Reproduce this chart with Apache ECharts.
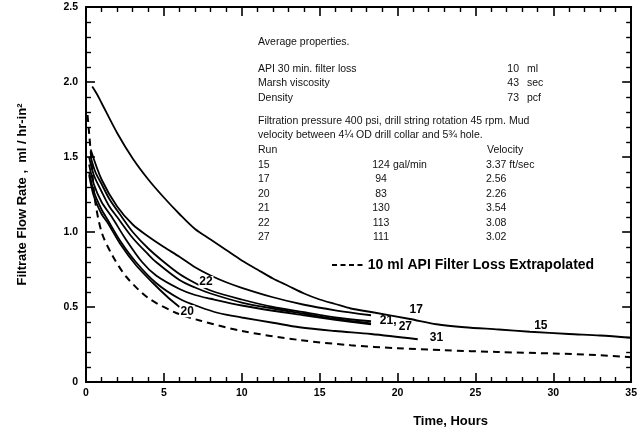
<!DOCTYPE html>
<html><head><meta charset="utf-8">
<script src="https://cdn.jsdelivr.net/npm/echarts@6/dist/echarts.min.js"></script>
<style>html,body{margin:0;padding:0;background:#fff}#c{width:640px;height:434px}</style>
</head><body><div id="c"></div>
<script>
// ---- data (hours, filtrate flow rate ml/hr-in^2) ----
const run15 = [[0.4,1.97],[0.7,1.92],[1,1.86],[2,1.66],[3,1.49],[4,1.35],[5,1.23],[6,1.12],[7,1.02],[8,0.95],[9,0.88],[10,0.81],[11,0.75],[12,0.69],[13,0.64],[14,0.59],[15,0.55],[16,0.52],[17,0.49],[18.4,0.465],[20.8,0.42],[22.5,0.385],[24.3,0.365],[26.5,0.35],[28.5,0.335],[31,0.32],[33,0.31],[35,0.295]];
const run22 = [[0.3,1.55],[1,1.35],[2,1.17],[3,1.05],[4,0.97],[5,0.9],[6,0.835],[7,0.765],[8,0.71],[9,0.665],[10,0.628],[12,0.565],[14,0.515],[16,0.478],[18.3,0.445]];
const run17 = [[0.3,1.5],[0.6,1.4],[1,1.32],[1.5,1.22],[2.3,1.1],[3,1.0],[4,0.89],[5,0.8],[6,0.72],[7,0.66],[8,0.61],[10,0.55],[12,0.5],[14,0.465],[16,0.43],[18.3,0.405]];
const run21 = [[0.2,1.5],[0.5,1.38],[1,1.27],[1.5,1.17],[2,1.1],[3,0.96],[4,0.85],[4.5,0.8],[6,0.68],[7,0.63],[8,0.59],[10,0.53],[12,0.49],[14,0.455],[16,0.42],[18.3,0.39]];
const run27 = [[0.2,1.45],[0.5,1.32],[1,1.2],[1.66,1.1],[2.5,0.96],[3.6,0.8],[4.5,0.71],[6,0.62],[7,0.58],[8,0.555],[10,0.51],[12,0.475],[14,0.445],[16,0.415],[18.3,0.385]];
const run31 = [[0.2,1.4],[0.5,1.27],[1,1.15],[1.4,1.08],[2.2,0.94],[3.2,0.8],[4.5,0.66],[6,0.555],[7.3,0.5],[8.5,0.46],[10,0.43],[12,0.395],[13.7,0.365],[16,0.34],[18.3,0.32],[21.3,0.285]];
const run20 = [[0.2,1.38],[0.5,1.24],[1,1.12],[1.4,1.06],[2.2,0.92],[3.2,0.78],[4.3,0.66],[5.2,0.57],[6.0,0.5]];
const apiExtrapolated = [[0.1,1.78],[0.2,1.66],[0.35,1.48],[0.57,1.22],[1,1.0],[1.66,0.85],[2.6,0.7],[4,0.56],[5.8,0.46],[7.3,0.41],[10,0.34],[13.7,0.28],[17,0.245],[20,0.225],[23,0.212],[26.4,0.2],[30,0.19],[32.8,0.18],[35,0.165]];

const xTicks = [0,5,10,15,20,25,30,35];
const yTicks = ['0','0.5','1.0','1.5','2.0','2.5'];

const propNames = ['API 30 min. filter loss','Marsh viscosity','Density'];
const propValues = ['10','43','73'];
const propUnits = ['ml','sec','pcf'];
const tableRuns = ['15','17','20','21','22','27'];
const tableRates = ['124','94','83','130','113','111'];
const tableVel = ['3.37 ft/sec','2.56','2.26','3.54','3.08','3.02'];
const legendName = '10 ml API Filter Loss Extrapolated';

// ---- chart ----
const FONT = '"Liberation Sans", Arial, sans-serif';
const chart = echarts.init(document.getElementById('c'), null, {renderer:'canvas'});

const axisCommon = {
  type:'value',
  axisLine:{show:true, onZero:false, lineStyle:{color:'#000', width:2}},
  axisTick:{show:true, inside:true, length:9, lineStyle:{color:'#000', width:1.6}},
  minorTick:{show:true, splitNumber:5, length:5, lineStyle:{color:'#000', width:1.4}},
  splitLine:{show:false}, minorSplitLine:{show:false}
};

const xAx = (pos, showLabel) => Object.assign({}, axisCommon, {
  position:pos, min:0, max:35, interval:5,
  axisLabel:{show:showLabel, color:'#000', fontFamily:FONT, fontWeight:'bold', fontSize:10.5, margin:6,
    formatter:v => xTicks.indexOf(v) >= 0 ? String(v) : ''},
  name: showLabel ? 'Time, Hours' : '',
  nameLocation:'middle', nameGap:33,
  nameTextStyle:{color:'#000', fontFamily:FONT, fontWeight:'bold', fontSize:13, padding:[0,0,0,184]}
});
const yAx = (pos, showLabel) => Object.assign({}, axisCommon, {
  position:pos, min:0, max:2.5, interval:0.5,
  axisLabel:{show:showLabel, color:'#000', fontFamily:FONT, fontWeight:'bold', fontSize:10.5, margin:8,
    formatter:v => yTicks[Math.round(v/0.5)]},
  name: showLabel ? 'Filtrate Flow Rate ,  ml / hr-in\u00b2' : '',
  nameLocation:'middle', nameGap:57, nameRotate:90,
  nameTextStyle:{color:'#000', fontFamily:FONT, fontWeight:'bold', fontSize:13}
});

function curve(name, data, labels, dashed){
  return {
    name:name, type:'line', data:data, smooth:0.3, showSymbol:false, symbol:'none',
    xAxisIndex:0, yAxisIndex:0, z:3,
    lineStyle:{color:'#000', width:dashed?2:1.8, type: dashed?[7,5]:'solid'},
    itemStyle:{color:'#000'},
    emphasis:{disabled:true},
    markPoint: labels ? {
      symbol:'rect', symbolSize:[15,12], silent:true, animation:false,
      itemStyle:{color:labels.bg ? '#fff' : 'rgba(0,0,0,0)'},
      label:{show:true, position:'inside', color:'#000', fontFamily:FONT, fontWeight:'bold', fontSize:12,
        formatter:p => p.name},
      data:labels.pts.map(p => ({name:p.t, coord:p.c}))
    } : undefined
  };
}

const graphics = [];
function txt(x, y, s, align, size){
  graphics.push({type:'text', x:x, y:y, z:10,
    style:{text:s, fill:'#111', font:(size||10.5)+'px '+FONT, textAlign:align||'left', textVerticalAlign:'middle'}});
}
txt(258, 42, 'Average properties.');
const propY = [69, 83, 98];
propNames.forEach((n,i)=>{ txt(258, propY[i], n); txt(519, propY[i], propValues[i], 'right'); txt(527, propY[i], propUnits[i]); });
txt(258, 121, 'Filtration pressure 400 psi, drill string rotation 45 rpm. Mud');
txt(258, 135, 'velocity between 4\u00bc OD drill collar and 5\u00be hole.');
txt(258, 150, 'Run');
txt(487, 150, 'Velocity');
const rowY = [165, 179, 194, 208, 223, 237];
tableRuns.forEach((r,i)=>{
  txt(258, rowY[i], r);
  txt(381, rowY[i], tableRates[i], 'center');
  if (i === 0) txt(393, rowY[i], 'gal/min');
  txt(486, rowY[i], tableVel[i]);
});

chart.setOption({
  animation:false,
  backgroundColor:'#fff',
  grid:{left:86, right:6, top:7, bottom:52},
  xAxis:[xAx('bottom', true), xAx('top', false)],
  yAxis:[yAx('left', true), yAx('right', false)],
  legend:{show:true, left:327, top:253, itemWidth:31, itemHeight:2, itemGap:10, selectedMode:false,
    data:[{name:legendName, icon:'path://M0,0h5v2h-5z M8.5,0h5v2h-5z M17,0h5v2h-5z M25.5,0h5v2h-5z'}],
    textStyle:{color:'#000', fontFamily:FONT, fontWeight:'bold', fontSize:14}},
  graphic:graphics,
  series:[
    curve('15', run15, {pts:[{t:'15', c:[29.2,0.378]}]}),
    curve('22', run22, {bg:true, pts:[{t:'22', c:[7.7,0.667]}]}),
    curve('17', run17, {pts:[{t:'17', c:[21.2,0.48]}]}),
    curve('21', run21, {pts:[{t:'21,', c:[19.4,0.41]}]}),
    curve('27', run27, {pts:[{t:'27', c:[20.5,0.372]}]}),
    curve('31', run31, {pts:[{t:'31', c:[22.5,0.295]}]}),
    curve('20', run20, {bg:true, pts:[{t:'20', c:[6.5,0.472]}]}),
    curve(legendName, apiExtrapolated, null, true)
  ]
});
</script></body></html>
